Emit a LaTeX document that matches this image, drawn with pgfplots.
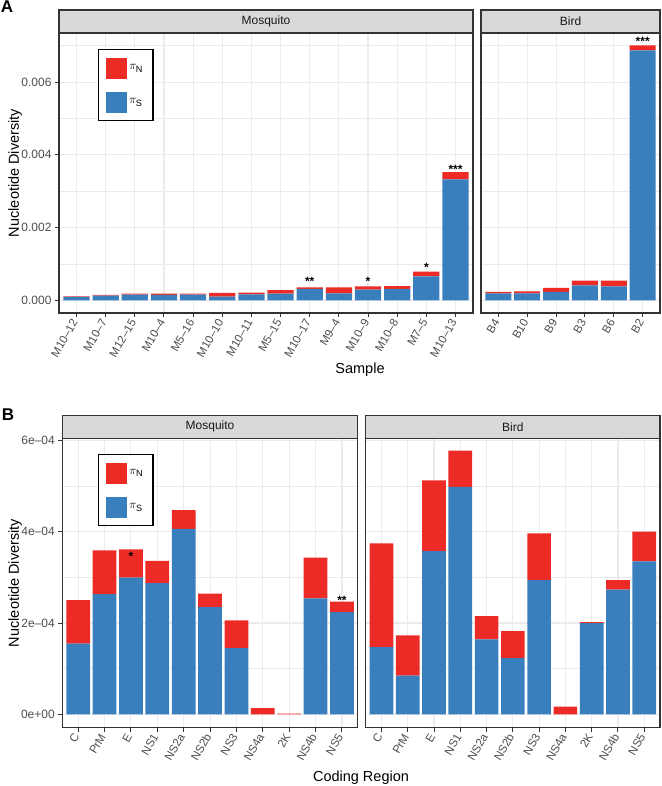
\documentclass[border=0pt]{standalone}
\usepackage{pgfplots}
\pgfplotsset{compat=1.18}
\usepackage{pgfplotstable}
\usepackage{fontspec}
\setmainfont{Liberation Sans}

\definecolor{pN}{RGB}{236,43,39}
\definecolor{pS}{RGB}{57,127,189}
\definecolor{gridc}{RGB}{235,235,235}
\definecolor{stripc}{RGB}{217,217,217}
\definecolor{frame}{RGB}{51,51,51}
\definecolor{tickc}{RGB}{77,77,77}

% pi_S (bottom) and pi_N (top) per sample / region, s = significance stars
\pgfplotstableread{
x S N s
0 0.000090 0.000020 {}
1 0.000128 0.000018 {}
2 0.000155 0.000028 {}
3 0.000146 0.000037 {}
4 0.000155 0.000028 {}
5 0.000100 0.000100 {}
6 0.000165 0.000045 {}
7 0.000183 0.000097 {}
8 0.000310 0.000046 **
9 0.000190 0.000166 {}
10 0.000290 0.000094 *
11 0.000310 0.000080 {}
12 0.000660 0.000130 *
13 0.003325 0.000200 ***
}\mosA
\pgfplotstableread{
x S N s
0 0.000190 0.000038 {}
1 0.000190 0.000057 {}
2 0.000228 0.000110 {}
3 0.000410 0.000130 {}
4 0.000384 0.000156 {}
5 0.006870 0.000140 ***
}\birdA
\pgfplotstableread{
x S N s
0 1.55e-4 0.95e-4 {}
1 2.63e-4 0.96e-4 {}
2 2.99e-4 0.62e-4 *
3 2.87e-4 0.49e-4 {}
4 4.06e-4 0.41e-4 {}
5 2.35e-4 0.29e-4 {}
6 1.45e-4 0.61e-4 {}
7 0 0.136e-4 {}
8 0 0.02e-4 {}
9 2.54e-4 0.89e-4 {}
10 2.24e-4 0.23e-4 **
}\mosB
\pgfplotstableread{
x S N s
0 1.47e-4 2.27e-4 {}
1 0.85e-4 0.88e-4 {}
2 3.57e-4 1.55e-4 {}
3 4.98e-4 0.79e-4 {}
4 1.64e-4 0.51e-4 {}
5 1.23e-4 0.59e-4 {}
6 2.94e-4 1.02e-4 {}
7 0 0.17e-4 {}
8 2.00e-4 0.02e-4 {}
9 2.73e-4 0.21e-4 {}
10 3.35e-4 0.65e-4 {}
}\birdB

\pgfplotsset{
  facet/.style={
    scale only axis, ybar stacked, bar width=0.9,
    axis line style={draw=frame, line width=1.1pt},
    tick style={draw=frame, line width=1pt},
    tick align=outside, major tick length=4pt, minor tick length=0pt,
    xtick pos=bottom, ytick pos=left,
    scaled y ticks=false,
    xmajorgrids, ymajorgrids, yminorgrids,
    major grid style={draw=gridc, line width=1.1pt},
    minor grid style={draw=gridc, line width=0.55pt},
    every tick label/.append style={font=\fontsize{12}{13}\selectfont, text=tickc},
    xticklabel style={rotate=60, anchor=east, font=\fontsize{11.5}{12}\selectfont},
    xmin=-0.6,
  },
  noylab/.style={yticklabels={,,,,}, y tick style={draw=none}},
  sbar/.style={fill=pS, draw=none},
  nbar/.style={fill=pN, draw=none, nodes near coords, point meta=explicit symbolic,
    every node near coord/.append style={font=\fontsize{12}{12}\selectfont\bfseries,
      text=black, anchor=south, inner sep=0pt, yshift=2.5pt}},
  leg/.style={
    reverse legend,
    legend image code/.code={\fill[##1, draw=none] (0pt,-10.5pt) rectangle (21pt,10.5pt);},
    legend style={at={(rel axis cs:#1)}, anchor=north west, draw=black, line width=1.2pt,
      inner xsep=8pt, inner ysep=8pt, row sep=13pt, fill=white,
      font=\fontsize{13}{13}\selectfont, cells={anchor=west},
      /tikz/every even column/.append style={column sep=5pt}},
  },
}

\begin{document}
\begin{tikzpicture}
\path[use as bounding box] (0pt,0pt) rectangle (661pt,786pt);

% ---------------- panel A ----------------
\begin{axis}[facet, name=mA, at={(59pt,473pt)}, anchor=south west,
  width=414pt, height=280pt, xmax=13.6,
  ymin=-0.00035, ymax=0.00735,
  ytick={0,0.002,0.004,0.006}, yticklabels={0.000,0.002,0.004,0.006},
  minor ytick={0.001,0.003,0.005,0.007},
  xtick={0,...,13},
  xticklabels={M10--12,M10--7,M12--15,M10--4,M5--16,M10--10,M10--11,M5--15,M10--17,M9--4,M10--9,M10--8,M7--5,M10--13},
  leg={0.0935,0.943}]
  \addplot[sbar] table[x=x, y=S] {\mosA};
  \addlegendentry{$\pi_{\mathrm{S}}$}
  \addplot[nbar] table[x=x, y=N, meta=s] {\mosA};
  \addlegendentry{$\pi_{\mathrm{N}}$}
\end{axis}

\begin{axis}[facet, name=bA, at={(481pt,473pt)}, anchor=south west,
  width=179pt, height=280pt, xmax=5.6,
  ymin=-0.00035, ymax=0.00735,
  ytick={0,0.002,0.004,0.006}, noylab,
  minor ytick={0.001,0.003,0.005,0.007},
  xtick={0,...,5}, xticklabels={B4,B10,B9,B3,B6,B2}]
  \addplot[sbar] table[x=x, y=S] {\birdA};
  \addplot[nbar] table[x=x, y=N, meta=s] {\birdA};
\end{axis}

% ---------------- panel B ----------------
\begin{axis}[facet, name=mB, at={(62.3pt,58.3pt)}, anchor=south west,
  width=295.5pt, height=289.4pt, xmax=10.6,
  ymin=-2.9e-5, ymax=6.04e-4,
  ytick={0,2e-4,4e-4,6e-4}, yticklabels={0e+00,2e--04,4e--04,6e--04},
  minor ytick={1e-4,3e-4,5e-4},
  xtick={0,...,10},
  xticklabels={C,PrM,E,NS1,NS2a,NS2b,NS3,NS4a,2K,NS4b,NS5},
  leg={0.12,0.946}]
  \addplot[sbar] table[x=x, y=S] {\mosB};
  \addlegendentry{$\pi_{\mathrm{S}}$}
  \addplot[nbar] table[x=x, y=N, meta=s] {\mosB};
  \addlegendentry{$\pi_{\mathrm{N}}$}
\end{axis}

\begin{axis}[facet, name=bB, at={(365.7pt,58.3pt)}, anchor=south west,
  width=294.3pt, height=289.4pt, xmax=10.6,
  ymin=-2.9e-5, ymax=6.04e-4,
  ytick={0,2e-4,4e-4,6e-4}, noylab,
  minor ytick={1e-4,3e-4,5e-4},
  xtick={0,...,10},
  xticklabels={C,PrM,E,NS1,NS2a,NS2b,NS3,NS4a,2K,NS4b,NS5}]
  \addplot[sbar] table[x=x, y=S] {\birdB};
  \addplot[nbar] table[x=x, y=N, meta=s] {\birdB};
\end{axis}

% facet strips
\foreach \ax/\lab in {mA/Mosquito, bA/Bird, mB/Mosquito, bB/Bird}{
  \draw[draw=frame, line width=1.1pt, fill=stripc] (\ax.north west) rectangle ([yshift=23pt]\ax.north east);
  \node[font=\fontsize{12}{12}\selectfont, text=black!90] at ([yshift=11.5pt]\ax.north) {\lab};
}

% titles
\node[rotate=90, font=\fontsize{14.5}{15}\selectfont] at (15pt,613pt) {Nucleotide Diversity};
\node[rotate=90, font=\fontsize{14.5}{15}\selectfont] at (15pt,203pt) {Nucleotide Diversity};
\node[font=\fontsize{14.5}{15}\selectfont] at (360pt,416pt) {Sample};
\node[font=\fontsize{14.5}{15}\selectfont] at (361pt,8pt) {Coding Region};
\node[font=\fontsize{17}{17}\selectfont\bfseries] at (7pt,779pt) {A};
\node[font=\fontsize{17}{17}\selectfont\bfseries] at (8pt,371pt) {B};
\end{tikzpicture}
\end{document}
